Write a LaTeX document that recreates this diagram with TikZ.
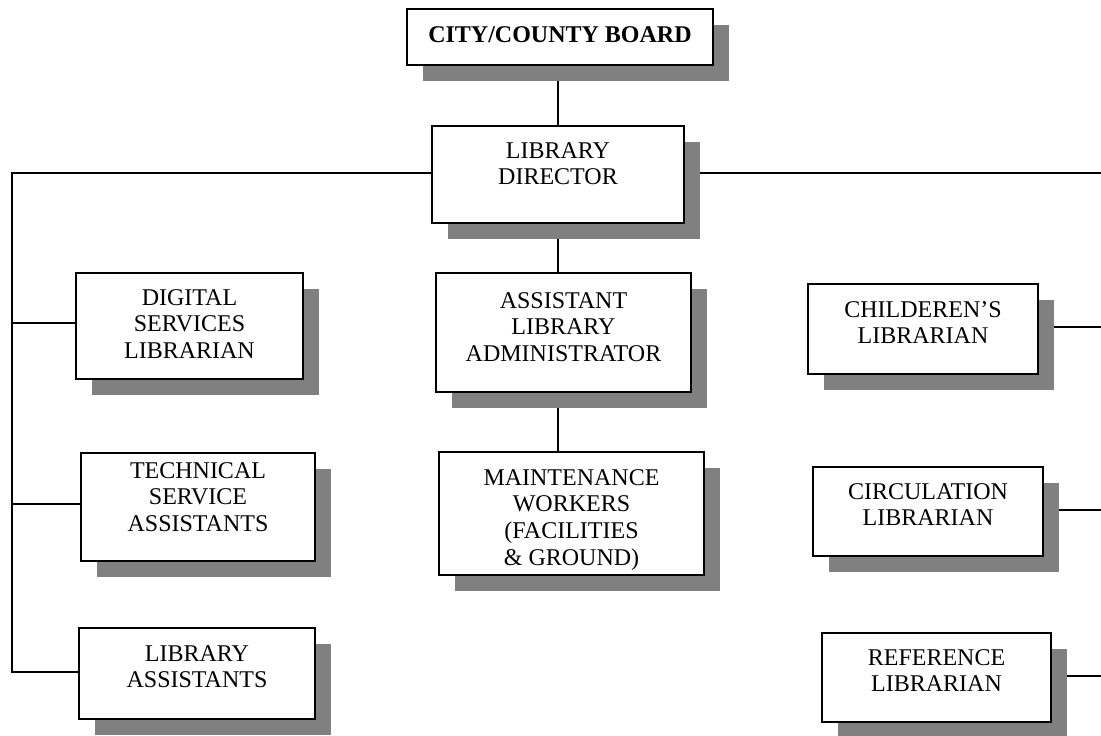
\documentclass[tikz,border=0pt]{standalone}
\usepackage{fontspec}
\setmainfont{Liberation Serif}
\usetikzlibrary{shadows,backgrounds}
\definecolor{shadowgray}{HTML}{808080}
\tikzset{
  box/.style={draw=black, line width=2pt, fill=white, inner sep=0pt, rectangle,
    drop shadow={shadow xshift=16pt, shadow yshift=-16pt, fill=shadowgray, opacity=1}},
  lbl/.style={inner sep=0pt, align=center, font=\fontsize{24}{26.7}\selectfont},
  conn/.style={draw=black, line width=2pt}
}
\newcommand{\orgbox}[7]{%
  \node[box, minimum width={#4-#2}, minimum height={#5-#3}] (#1) at ({(#2+#4)/2},{(#3+#5)/2}) {};
  \node[lbl, anchor=north] (#1-t) at ([yshift=-#6]#1.north) {#7};
}
\begin{document}
\begin{tikzpicture}[x=1pt,y=-1pt]
\useasboundingbox (0,0) rectangle (1101,736);
\orgbox{board}{407}{9}{713}{65}{18}{\textbf{CITY/COUNTY BOARD}}
\orgbox{dir}{432}{126}{684}{223}{17}{LIBRARY\\DIRECTOR}
\orgbox{asst}{436}{273}{691}{392}{20}{ASSISTANT\\LIBRARY\\ADMINISTRATOR}
\orgbox{maint}{439}{452}{704}{575}{18}{MAINTENANCE\\WORKERS\\(FACILITIES\\\& GROUND)}
\orgbox{digital}{76}{273}{303}{379}{17}{DIGITAL\\SERVICES\\LIBRARIAN}
\orgbox{tech}{81}{453}{315}{561}{10}{TECHNICAL\\SERVICE\\ASSISTANTS}
\orgbox{libasst}{79}{628}{315}{719}{18}{LIBRARY\\ASSISTANTS}
\orgbox{child}{808}{284}{1038}{374}{18}{CHILDEREN’S\\LIBRARIAN}
\orgbox{circ}{813}{467}{1043}{556}{17}{CIRCULATION\\LIBRARIAN}
\orgbox{ref}{822}{633}{1051}{722}{17}{REFERENCE\\LIBRARIAN}
\coordinate (lx) at (12,0);
\coordinate (rx) at (1101,0);
\begin{scope}[on background layer]
  \fill[white] (0,0) rectangle (1101,736);
  \draw[conn] (dir.north) -- (dir.north |- board.south);
  \draw[conn] (dir.south) -- (dir.south |- asst.north);
  \draw[conn] (asst.south -| dir.south) -- (maint.north -| dir.south);
  \draw[conn] ([yshift=1.5pt]dir.west) -- ([yshift=1.5pt]dir.west -| lx) -- ([yshift=1.5pt]libasst.west -| lx) -- ([yshift=1.5pt]libasst.west);
  \draw[conn] ([yshift=3pt]digital.west) -- ([yshift=3pt]digital.west -| lx);
  \draw[conn] ([yshift=3pt]tech.west) -- ([yshift=3pt]tech.west -| lx);
  \draw[conn] ([yshift=1.5pt]dir.east) -- ([yshift=1.5pt]dir.east -| rx);
  \draw[conn] ([yshift=2pt]child.east) -- ([yshift=2pt]child.east -| rx);
  \draw[conn] ([yshift=1.5pt]circ.east) -- ([yshift=1.5pt]circ.east -| rx);
  \draw[conn] ([yshift=1.5pt]ref.east) -- ([yshift=1.5pt]ref.east -| rx);
\end{scope}
\end{tikzpicture}
\end{document}
